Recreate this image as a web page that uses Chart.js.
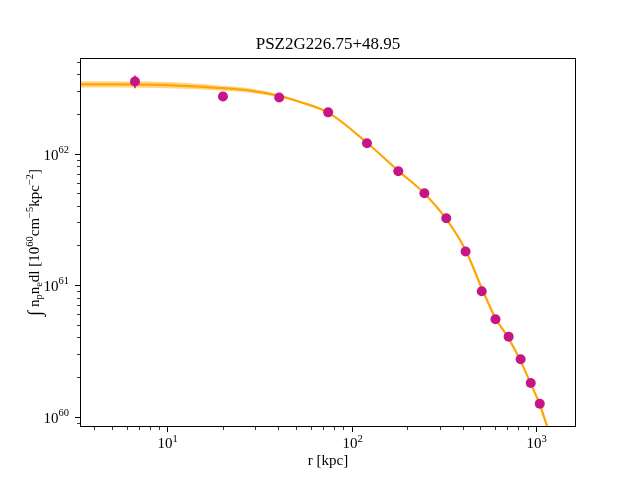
<!DOCTYPE html>
<html>
<head>
<meta charset="utf-8">
<script src="https://cdn.jsdelivr.net/npm/chart.js@4.4.1/dist/chart.umd.min.js"></script>
<style>
  body { margin: 0; background: #fff; }
</style>
</head>
<body>
<canvas id="grafico" width="640" height="480"></canvas>
<script>
// dados medidos (pontos)
const raio = [6.66, 20.0, 40.4, 74.5, 121, 179, 248, 326, 415, 508, 603, 711, 826, 937, 1049];
const brilho = [3.54e62, 2.72e62, 2.67e62, 2.06e62, 1.20e62, 7.34e61, 5.0e61, 3.22e61, 1.80e61, 8.96e60, 5.50e60, 4.05e60, 2.73e60, 1.80e60, 1.25e60];
const erro = [0.39e62, 0.06e62, 0.05e62, 0.04e62, 0.025e62, 0.15e61, 0.1e61, 0.07e61, 0.04e61, 0.2e60, 0.12e60, 0.09e60, 0.06e60, 0.04e60, 0.03e60];

// curva do modelo
const raioModelo = [3.35, 5.52, 10, 17.7, 28.1, 40.4, 52.5, 74.5, 121, 179, 248, 326, 414, 506, 603, 709, 825, 934, 1045, 1155, 1358, 1650];
const brilhoModelo = [3.36e62, 3.36e62, 3.32e62, 3.18e62, 3.02e62, 2.75e62, 2.47e62, 2.05e62, 1.21e62, 7.40e61, 4.98e61, 3.18e61, 1.86e61, 9.6e60, 5.6e60, 3.96e60, 2.65e60, 1.80e60, 1.25e60, 8.34e59, 4.85e59, 2.2e59];

// faixa de incerteza do modelo
const raioFaixa = [3.35, 10, 17.7, 28.1, 40.4, 52.5, 74.5, 98];
const faixaSup = [3.55e62, 3.51e62, 3.33e62, 3.13e62, 2.82e62, 2.51e62, 2.08e62, 1.59e62];
const faixaInf = [3.18e62, 3.14e62, 3.04e62, 2.91e62, 2.68e62, 2.43e62, 2.03e62, 1.58e62];

const limX = [3.35, 1650];
const limY = [8.32e59, 5.34e62];
const titulo = 'PSZ2G226.75+48.95';

const fonte = '"Liberation Serif", "DejaVu Serif", serif';
const pares = (xs, ys) => xs.map((x, i) => ({ x: x, y: ys[i] }));

function textoRico(ctx, partes, x, y, alinhar, tam) {
    const peq = tam * 0.7;
    const tamanho = p => (p.s ? peq : (p.big || tam));
    let larg = 0;
    partes.forEach(p => {
        ctx.font = tamanho(p) + 'px ' + fonte;
        larg += ctx.measureText(p.t).width;
    });
    let cx = alinhar === 'right' ? x - larg : (alinhar === 'center' ? x - larg / 2 : x);
    partes.forEach(p => {
        ctx.font = tamanho(p) + 'px ' + fonte;
        let dy = 0;
        if (p.s === 'sup') dy = -tam * 0.42;
        if (p.s === 'sub') dy = tam * 0.22;
        if (p.big) dy = tam * 0.15;
        ctx.fillText(p.t, cx, y + dy);
        cx += ctx.measureText(p.t).width;
    });
}

const moldura = {
    id: 'moldura',
    afterDatasetsDraw(chart) {
        // barras de erro
        const ctx = chart.ctx;
        const sx = chart.scales.x, sy = chart.scales.y;
        ctx.save();
        ctx.strokeStyle = '#c71585';
        ctx.lineWidth = 1.5;
        raio.forEach((r, i) => {
            const px = sx.getPixelForValue(r);
            ctx.beginPath();
            ctx.moveTo(px, sy.getPixelForValue(brilho[i] + erro[i]));
            ctx.lineTo(px, sy.getPixelForValue(brilho[i] - erro[i]));
            ctx.stroke();
        });
        ctx.restore();
    },
    afterDraw(chart) {
        const ctx = chart.ctx;
        const a = chart.chartArea;
        const sx = chart.scales.x, sy = chart.scales.y;
        ctx.save();
        ctx.strokeStyle = '#000';
        ctx.fillStyle = '#000';
        ctx.lineWidth = 1;
        ctx.strokeRect(a.left + 0.5, a.top + 0.5, a.right - a.left - 1, a.bottom - a.top - 1);

        // marcas do eixo x
        ctx.textBaseline = 'alphabetic';
        for (let e = 0; e <= 3; e++) {
            for (let k = 1; k <= 9; k++) {
                const v = k * Math.pow(10, e);
                if (v < limX[0] || v > limX[1]) continue;
                const px = Math.round(sx.getPixelForValue(v)) + 0.5;
                const comp = k === 1 ? 5 : 3;
                ctx.lineWidth = k === 1 ? 1 : 0.8;
                ctx.beginPath();
                ctx.moveTo(px, a.bottom);
                ctx.lineTo(px, a.bottom + comp);
                ctx.stroke();
                if (k === 1) {
                    textoRico(ctx, [{ t: '10' }, { t: String(e), s: 'sup' }], px, 448, 'center', 15);
                }
            }
        }
        // marcas do eixo y
        for (let e = 59; e <= 62; e++) {
            for (let k = 1; k <= 9; k++) {
                const v = k * Math.pow(10, e);
                if (v < limY[0] || v > limY[1]) continue;
                const py = Math.round(sy.getPixelForValue(v)) + 0.5;
                const comp = k === 1 ? 5 : 3;
                ctx.lineWidth = k === 1 ? 1 : 0.8;
                ctx.beginPath();
                ctx.moveTo(a.left, py);
                ctx.lineTo(a.left - comp, py);
                ctx.stroke();
                if (k === 1) {
                    textoRico(ctx, [{ t: '10' }, { t: String(e), s: 'sup' }], 69, py + 5, 'right', 15);
                }
            }
        }

        // titulo e rotulos
        textoRico(ctx, [{ t: titulo }], (a.left + a.right) / 2, 49, 'center', 17);
        textoRico(ctx, [{ t: 'r [kpc]' }], (a.left + a.right) / 2, 465, 'center', 15);

        ctx.translate(39, (a.top + a.bottom) / 2);
        ctx.rotate(-Math.PI / 2);
        textoRico(ctx, [
            { t: '\u222B', big: 19 }, { t: ' n' }, { t: 'p', s: 'sub' }, { t: 'n' }, { t: 'e', s: 'sub' },
            { t: 'dl [10' }, { t: '60', s: 'sup' }, { t: 'cm' }, { t: '\u22125', s: 'sup' },
            { t: 'kpc' }, { t: '\u22122', s: 'sup' }, { t: ']' }
        ], 0, 0, 'center', 15);
        ctx.restore();
    }
};

const ctx = document.getElementById('grafico').getContext('2d');
new Chart(ctx, {
    type: 'line',
    data: {
        datasets: [
            {
                label: 'dados',
                data: pares(raio, brilho),
                showLine: false,
                pointRadius: 5,
                pointBackgroundColor: '#c71585',
                pointBorderColor: '#c71585',
                pointBorderWidth: 0,
                order: 0
            },
            {
                label: 'modelo',
                data: pares(raioModelo, brilhoModelo),
                borderColor: '#ffa500',
                borderWidth: 2.2,
                pointRadius: 0,
                cubicInterpolationMode: 'monotone',
                fill: false,
                order: 1
            },
            {
                label: 'faixa sup',
                data: pares(raioFaixa, faixaSup),
                borderWidth: 0,
                borderColor: 'rgba(0,0,0,0)',
                pointRadius: 0,
                cubicInterpolationMode: 'monotone',
                backgroundColor: 'rgba(255,165,0,0.45)',
                fill: '+1',
                order: 2
            },
            {
                label: 'faixa inf',
                data: pares(raioFaixa, faixaInf),
                borderWidth: 0,
                borderColor: 'rgba(0,0,0,0)',
                pointRadius: 0,
                cubicInterpolationMode: 'monotone',
                fill: false,
                order: 3
            }
        ]
    },
    options: {
        responsive: false,
        animation: false,
        layout: { padding: { top: 58, right: 64, left: 0, bottom: 0 } },
        plugins: {
            legend: { display: false },
            tooltip: { enabled: false },
            title: { display: false }
        },
        scales: {
            x: {
                type: 'logarithmic',
                min: limX[0],
                max: limX[1],
                ticks: { display: false },
                grid: { display: false },
                border: { display: false },
                afterFit: s => { s.height = 53; }
            },
            y: {
                type: 'logarithmic',
                min: limY[0],
                max: limY[1],
                ticks: { display: false },
                grid: { display: false },
                border: { display: false },
                afterFit: s => { s.width = 80; }
            }
        }
    },
    plugins: [moldura]
});
</script>
</body>
</html>
